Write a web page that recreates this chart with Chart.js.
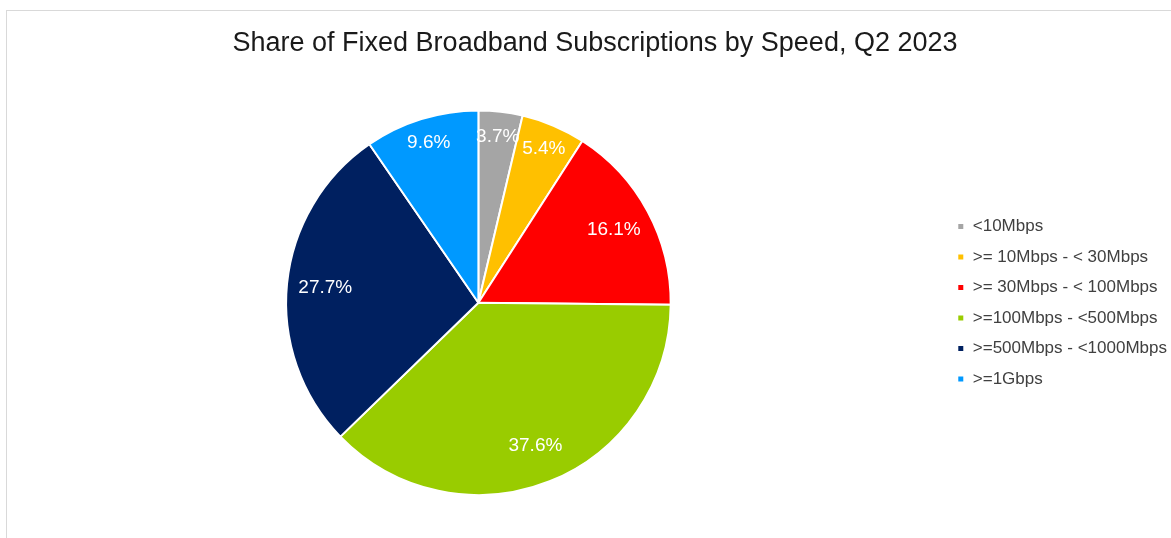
<!DOCTYPE html>
<html>
<head>
<meta charset="utf-8">
<script src="https://cdn.jsdelivr.net/npm/chart.js@4.4.0/dist/chart.umd.min.js"></script>
<style>
  html, body { margin: 0; padding: 0; background: #fff; overflow: hidden; }
  .frame { position: absolute; left: 6px; top: 10px; width: 1300px; height: 700px; border: 1px solid #d9d9d9; }
  .wrap { position: absolute; left: 0; top: 0; width: 1171px; height: 538px; }
</style>
</head>
<body>
<div class="frame"></div>
<div class="wrap"><canvas id="myChart"></canvas></div>
<script>
const speedLabels = ['<10Mbps', '>= 10Mbps - < 30Mbps', '>= 30Mbps - < 100Mbps', '>=100Mbps - <500Mbps', '>=500Mbps - <1000Mbps', '>=1Gbps'];
const shareValues = [3.7, 5.4, 16.1, 37.6, 27.7, 9.6];
const sliceColors = ['#a5a5a5', '#ffc000', '#ff0000', '#99cc00', '#002060', '#0099ff'];

const fontFamily = '"Liberation Sans", Arial, sans-serif';

// white percentage labels inside the slices
const sliceLabels = {
    id: 'sliceLabels',
    afterDatasetsDraw(chart) {
        const ctx = chart.ctx;
        const meta = chart.getDatasetMeta(0);
        ctx.save();
        ctx.font = '19px ' + fontFamily;
        ctx.fillStyle = '#ffffff';
        ctx.textAlign = 'center';
        ctx.textBaseline = 'middle';
        meta.data.forEach((arc, i) => {
            const p = arc.getProps(['x', 'y', 'startAngle', 'endAngle', 'outerRadius'], true);
            const mid = (p.startAngle + p.endAngle) / 2;
            const r = p.outerRadius * (shareValues[i] < 10 ? 0.87 : 0.8);
            ctx.fillText(shareValues[i].toFixed(1) + '%', p.x + Math.cos(mid) * r, p.y + Math.sin(mid) * r);
        });
        ctx.restore();
    }
};

const data = {
    labels: speedLabels,
    datasets: [{
        data: shareValues,
        backgroundColor: sliceColors,
        borderColor: '#ffffff',
        borderWidth: 2
    }]
};

const config = {
    type: 'pie',
    data: data,
    options: {
        responsive: true,
        maintainAspectRatio: false,
        animation: false,
        layout: {
            padding: { left: 13, right: -6, top: 0, bottom: 42 }
        },
        plugins: {
            title: {
                display: true,
                text: 'Share of Fixed Broadband Subscriptions by Speed, Q2 2023',
                color: '#1a1a1a',
                font: { family: fontFamily, size: 27, weight: 'normal' },
                padding: { top: 27, bottom: 50 }
            },
            legend: {
                position: 'right',
                fullSize: false,
                labels: {
                    boxWidth: 7,
                    boxHeight: 7,
                    padding: 13.5,
                    color: '#404040',
                    font: { family: fontFamily, size: 17 }
                }
            },
            tooltip: { enabled: false }
        }
    },
    plugins: [sliceLabels]
};

const myChart = new Chart(
    document.getElementById('myChart'),
    config
);
</script>
</body>
</html>
